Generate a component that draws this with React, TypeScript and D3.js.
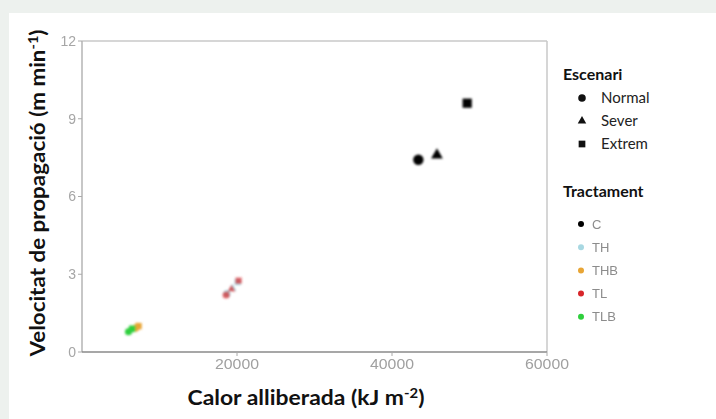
import React from "react";
import * as d3 from "d3";

const W = 716;
const H = 419;

const xTicks = [20000, 40000, 60000];
const yTicks = [0, 3, 6, 9, 12];

const scenarios = ["Normal", "Sever", "Extrem"];
const treatments = ["C", "TH", "THB", "TL", "TLB"];
const treatmentColors = ["#000000", "#a8d8e2", "#e8a535", "#d8262b", "#2fcf3c"];

// [heat released kJ m-2, spread velocity m min-1, scenario, treatment]
const heatValues = [43400, 45800, 49700, 18700, 19400, 20100, 18600, 19300, 20200, 6900, 7100, 7300, 6000, 6200, 6500];
const speedValues = [7.42, 7.6, 9.6, 2.25, 2.45, 2.7, 2.2, 2.42, 2.75, 0.92, 0.97, 1.0, 0.78, 0.85, 0.9];
const pointScenario = ["Normal", "Sever", "Extrem", "Normal", "Sever", "Extrem", "Normal", "Sever", "Extrem", "Normal", "Sever", "Extrem", "Normal", "Sever", "Extrem"];
const pointTreatment = ["C", "C", "C", "TH", "TH", "TH", "TL", "TL", "TL", "THB", "THB", "THB", "TLB", "TLB", "TLB"];

const margin = { left: 82, right: 547, top: 41, bottom: 352 };

function Marker({ shape, x, y, size, color, opacity = 1 }: any) {
  const sym = shape === "Normal" ? d3.symbolCircle : shape === "Sever" ? d3.symbolTriangle : d3.symbolSquare;
  const k = shape === "Sever" ? 0.7 : 1;
  const path = d3.symbol().type(sym).size(size * k)();
  return <path d={path || ""} transform={`translate(${x},${y})`} fill={color} opacity={opacity} />;
}

export default function App() {
  const x = d3.scaleLinear().domain([0, 60000]).range([margin.left, margin.right]);
  const y = d3.scaleLinear().domain([0, 12]).range([margin.bottom, margin.top]);
  const color = d3.scaleOrdinal<string, string>().domain(treatments).range(treatmentColors);

  const points = heatValues.map((h, i) => ({
    h,
    v: speedValues[i],
    s: pointScenario[i],
    t: pointTreatment[i],
  }));

  return (
    <div style={{ position: "fixed", left: 0, top: 0, width: W, height: H }}>
      <svg width={W} height={H} style={{ display: "block" }}>
        <defs>
          <filter id="blur1" x="-10%" y="-30%" width="120%" height="160%">
            <feGaussianBlur stdDeviation="0.6" />
          </filter>
          <filter id="blur2" x="-50%" y="-50%" width="200%" height="200%">
            <feGaussianBlur stdDeviation="0.9" />
          </filter>
        </defs>
        <rect x={0} y={0} width={W} height={H} fill="#edf1ee" />
        <rect x={9} y={13} width={W - 9} height={H - 13} fill="#ffffff" />

        {/* plot frame */}
        <line x1={margin.left} x2={margin.right} y1={margin.top} y2={margin.top} stroke="#c8c8c8" strokeWidth={1.5} />
        <line x1={margin.right} x2={margin.right} y1={margin.top} y2={margin.bottom} stroke="#c8c8c8" strokeWidth={1.5} />
        <line x1={margin.left} x2={margin.left} y1={margin.top} y2={margin.bottom} stroke="#b5b5b5" strokeWidth={1.5} />
        <line x1={margin.left} x2={margin.right} y1={margin.bottom} y2={margin.bottom} stroke="#8a8a8a" strokeWidth={1.5} />

        {/* y ticks */}
        {yTicks.map((t) => (
          <g key={"y" + t} filter="url(#blur1)">
            <line x1={margin.left - 4} x2={margin.left} y1={y(t)} y2={y(t)} stroke="#aaa" />
            <text x={margin.left - 6} y={y(t)} dy="0.35em" textAnchor="end" fontFamily="Liberation Sans, Arial" fontSize={14} fill="#a6a6a6">
              {t}
            </text>
          </g>
        ))}
        {/* x ticks */}
        {xTicks.map((t) => (
          <g key={"x" + t} filter="url(#blur1)">
            <line x1={x(t)} x2={x(t)} y1={margin.bottom} y2={margin.bottom + 4} stroke="#aaa" />
            <text x={x(t)} y={margin.bottom + 17} textAnchor="middle" fontFamily="Liberation Sans, Arial" fontSize={14} fill="#a0a0a0" textLength={44} lengthAdjust="spacingAndGlyphs">
              {t}
            </text>
          </g>
        ))}

        {/* points */}
        <g filter="url(#blur2)">
          {points.map((p, i) => (
            <Marker
              key={i}
              shape={p.s}
              x={x(p.h)}
              y={y(p.v)}
              size={p.t === "C" ? 85 : 40}
              color={color(p.t)}
              opacity={p.t === "TL" ? 0.7 : 1}
            />
          ))}
        </g>

        {/* axis titles */}
        <text x={306} y={405} textAnchor="middle" fontFamily="Lato, 'Open Sans', sans-serif" fontWeight={700} fontSize={20} fill="#111" textLength={237} lengthAdjust="spacingAndGlyphs">
          Calor alliberada (kJ m<tspan dy={-7} fontSize={13}>-2</tspan><tspan dy={7}>)</tspan>
        </text>
        <text transform="translate(45,193) rotate(-90)" textAnchor="middle" fontFamily="Lato, 'Open Sans', sans-serif" fontWeight={700} fontSize={20} fill="#111" textLength={327} lengthAdjust="spacingAndGlyphs">
          Velocitat de propagació (m min<tspan dy={-7} fontSize={13}>-1</tspan><tspan dy={7}>)</tspan>
        </text>

        {/* legend: Escenari */}
        <text x={563} y={80} fontFamily="Lato, 'Open Sans', sans-serif" fontWeight={700} fontSize={16} fill="#111">
          Escenari
        </text>
        {scenarios.map((s, i) => (
          <g key={s}>
            <Marker shape={s} x={582} y={98 + i * 23} size={45} color="#111" />
            <text x={601} y={98 + i * 23} dy="0.35em" fontFamily="Lato, 'Open Sans', sans-serif" fontSize={15} fill="#222">
              {s}
            </text>
          </g>
        ))}

        {/* legend: Tractament */}
        <text x={563} y={197} fontFamily="Lato, 'Open Sans', sans-serif" fontWeight={700} fontSize={16} fill="#111">
          Tractament
        </text>
        {treatments.map((t, i) => (
          <g key={t} filter="url(#blur1)">
            <circle cx={581} cy={224 + i * 23.2} r={3} fill={color(t)} />
            <text x={592} y={224 + i * 23.2} dy="0.35em" fontFamily="Liberation Sans, Arial" fontSize={13} fill="#8c8c8c">
              {t}
            </text>
          </g>
        ))}
      </svg>
    </div>
  );
}
